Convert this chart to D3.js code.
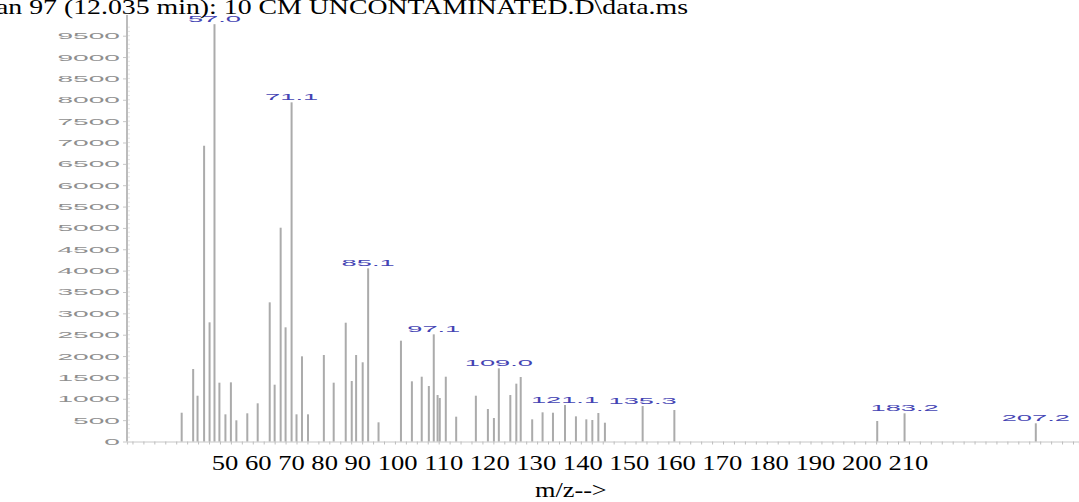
<!DOCTYPE html>
<html>
<head>
<meta charset="utf-8">
<script src="https://cdn.jsdelivr.net/npm/d3@7"></script>
<style>
  html, body { margin: 0; padding: 0; background: #fff; }
  svg { display: block; }
</style>
</head>
<body>
<svg id="chart" width="1079" height="502"></svg>
<script>
// ---- data ----
const titleText = "an 97 (12.035 min): 10 CM UNCONTAMINATED.D\\data.ms";
const mz = [51.0, 53.1, 53.9, 55.1, 56.1, 57.0, 57.9, 59.0, 60.0, 61.0, 63.0, 64.9,
  67.1, 68.0, 69.1, 70.0, 71.1, 72.0, 73.0, 74.1, 77.0, 78.8, 81.0, 82.1, 82.9, 84.1,
  85.1, 87.0, 91.1, 93.1, 94.9, 96.2, 97.1, 97.8, 98.2, 99.3, 101.2, 104.8, 107.0,
  108.1, 109.0, 111.1, 112.2, 113.0, 115.1, 117.0, 118.9, 121.1, 123.1, 125.0, 126.1,
  127.2, 128.4, 135.3, 141.1, 178.2, 183.2, 207.2];
const abundance = [674, 1697, 1072, 6924, 2790, 9770, 1377, 636, 1385, 496, 660, 894,
  3258, 1330, 5005, 2673, 7940, 636, 1994, 636, 2025, 1377, 2781, 1416, 2025, 1854,
  4054, 449, 2360, 1409, 1517, 1299, 2509, 1088, 1018, 1517, 581, 1072, 761,
  550, 1713, 1088, 1354, 1510, 519, 683, 674, 854, 589, 519, 503,
  667, 440, 831, 737, 480, 660, 426];
const labeledPeaks = [57.0, 71.1, 85.1, 97.1, 109.0, 121.1, 135.3, 183.2, 207.2];
const yTicks = [0, 500, 1000, 1500, 2000, 2500, 3000, 3500, 4000, 4500, 5000, 5500,
  6000, 6500, 7000, 7500, 8000, 8500, 9000, 9500];
const xTickLabels = [50, 60, 70, 80, 90, 100, 110, 120, 130, 140, 150, 160, 170, 180, 190, 200, 210];
const xAxisTitle = "m/z-->";

// ---- scales ----
const svg = d3.select("#chart");
const x = d3.scaleLinear().domain([41, 215.1]).range([127, 1079]);
const y = d3.scaleLinear().domain([0, 9500]).range([441.5, 35.7]);

const serif = "'Liberation Serif', 'Times New Roman', Times, serif";
const sans = "'Liberation Sans', Arial, Helvetica, sans-serif";
const SX = 2.87; // horizontal stretch of the small chart fonts

// title (cut off at the left and top, as in the source)
svg.append("text")
  .attr("x", -4).attr("y", 14)
  .attr("font-family", serif).attr("font-size", 21.5)
  .attr("textLength", 692).attr("lengthAdjust", "spacingAndGlyphs")
  .attr("fill", "#000")
  .text(titleText);

// baseline with minor ticks
const minorX = d3.range(42, 215, 2);
const xAxis = svg.append("g")
  .attr("transform", `translate(0,${y(0)})`)
  .call(d3.axisBottom(x).tickValues(minorX).tickSize(3).tickFormat(""));
xAxis.select(".domain").attr("stroke", "#c8c8c8").attr("stroke-width", 1.2);
xAxis.selectAll(".tick line").attr("stroke", "#bdbdbd");

// y axis
const yAxis = svg.append("g")
  .attr("transform", `translate(${x(41)},0)`)
  .call(d3.axisLeft(y).tickValues(yTicks).tickSize(4).tickPadding(0).tickFormat(""));
yAxis.select(".domain").remove();
yAxis.selectAll(".tick line").attr("stroke", "#c8c8c8");
svg.append("line")
  .attr("x1", x(41)).attr("x2", x(41))
  .attr("y1", 15).attr("y2", y(0))
  .attr("stroke", "#bcbcbc").attr("stroke-width", 2);

// minor ticks on the y axis (right side)
svg.append("g").selectAll("line")
  .data(d3.range(100, 9800, 100))
  .join("line")
  .attr("x1", x(41) + 1).attr("x2", x(41) + 3)
  .attr("y1", d => y(d)).attr("y2", d => y(d))
  .attr("stroke", "#dedede").attr("stroke-width", 0.8);

// y tick labels
svg.append("g").selectAll("text")
  .data(yTicks)
  .join("text")
  .attr("transform", d => `translate(120,${y(d) + 3.5}) scale(${SX},1)`)
  .attr("text-anchor", "end")
  .attr("font-family", sans).attr("font-size", 9.8)
  .attr("fill", "#8f8f8f")
  .text(d => d);

// bars
const peaks = mz.map((m, i) => ({ m, a: abundance[i] }));
svg.append("g").selectAll("rect")
  .data(peaks)
  .join("rect")
  .attr("x", d => x(d.m) - 1)
  .attr("width", 2)
  .attr("y", d => y(d.a))
  .attr("height", d => y(0) - y(d.a))
  .attr("fill", "#ababab");

// peak labels
svg.append("g").selectAll("text")
  .data(peaks.filter(d => labeledPeaks.includes(d.m)))
  .join("text")
  .attr("transform", d => `translate(${x(d.m)},${y(d.a) - 2}) scale(${SX},1)`)
  .attr("text-anchor", "middle")
  .attr("font-family", sans).attr("font-size", 9.5)
  .attr("fill", "#4444b4")
  .text(d => d.m.toFixed(1));

// caption-style x labels under the chart
svg.append("text")
  .attr("x", 211.7).attr("y", 469.5)
  .attr("font-family", serif).attr("font-size", 20.5)
  .attr("textLength", 716.6).attr("lengthAdjust", "spacingAndGlyphs")
  .attr("fill", "#000")
  .text(xTickLabels.join(" "));

svg.append("text")
  .attr("x", 535).attr("y", 497)
  .attr("font-family", serif).attr("font-size", 20.5)
  .attr("textLength", 71.7).attr("lengthAdjust", "spacingAndGlyphs")
  .attr("fill", "#000")
  .text(xAxisTitle);
</script>
</body>
</html>
